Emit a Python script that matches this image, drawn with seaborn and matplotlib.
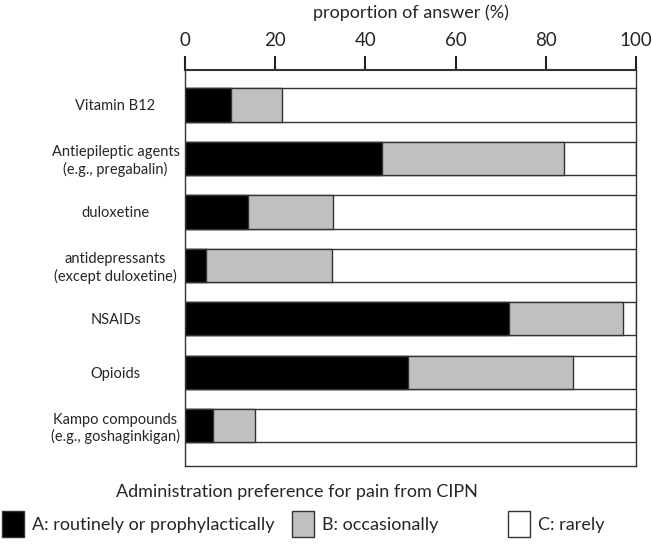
import matplotlib
matplotlib.use('Agg')  # no display
import matplotlib.pyplot as plt
from matplotlib.patches import Patch
import seaborn as sns
import pandas as pd

# values (percent of answers)
categories = [
    "Vitamin B12",
    "Antiepileptic agents\n(e.g., pregabalin)",
    "duloxetine",
    "antidepressants\n(except duloxetine)",
    "NSAIDs",
    "Opioids",
    "Kampo compounds\n(e.g., goshaginkigan)",
]
routinely = [10.3, 43.7, 13.9, 4.6, 71.8, 49.5, 6.2]
occasionally = [11.3, 40.4, 19.0, 28.1, 25.4, 36.6, 9.4]
rarely = [78.4, 15.9, 67.1, 67.3, 2.8, 13.9, 84.4]

legend_labels = ["A: routinely or prophylactically", "B: occasionally", "C: rarely"]
colors = ["black", "#c0c0c0", "white"]

sns.set_style("white")
plt.rcParams['font.family'] = ['Lato', 'DejaVu Sans']

df = pd.DataFrame({"category": categories, "A": routinely, "B": occasionally, "C": rarely})
df["AB"] = df["A"] + df["B"]
df["ABC"] = df["AB"] + df["C"]

fig, ax = plt.subplots(figsize=(6.52, 5.45), dpi=100)
fig.subplots_adjust(left=0.2837, right=0.9755, top=0.8716, bottom=0.145)

# stacked bars: draw the cumulative totals back to front
for col, c in zip(["ABC", "AB", "A"], colors[::-1]):
    sns.barplot(data=df, y="category", x=col, color=c, saturation=1,
                edgecolor="#333333", linewidth=1, width=0.62, ax=ax)

ax.set_xlim(0, 100)
ax.set_ylim(6.75, -0.654)
ax.set_ylabel("")
ax.xaxis.tick_top()
ax.xaxis.set_label_position("top")
ax.set_xticks([0, 20, 40, 60, 80, 100])
ax.set_xlabel("proportion of answer (%)", fontsize=13, labelpad=10)
ax.tick_params(axis="x", direction="out", length=10, width=1.5, color="#222222",
               labelsize=13.5, pad=5, top=True, bottom=False)
ax.set_yticks(range(len(categories)))
ax.set_yticklabels(categories, ha="center", fontsize=10.5)
ax.tick_params(axis="y", length=0, pad=50)
for side in ["left", "right", "bottom", "top"]:
    ax.spines[side].set_visible(True)
    ax.spines[side].set_color("#333333")
    ax.spines[side].set_linewidth(1)
ax.spines["top"].set_linewidth(1.5)

fig.text(0.4555, 0.097, "Administration preference for pain from CIPN",
         ha="center", va="center", fontsize=13)

# three separate legend entries, placed like the reference
legend_x = [0.003, 0.448, 0.779]
for lab, c, x in zip(legend_labels, colors, legend_x):
    h = Patch(facecolor=c, edgecolor="#333333", linewidth=1)
    leg = fig.legend([h], [lab], loc="center left", bbox_to_anchor=(x, 0.0385),
                     frameon=False, fontsize=13, handlelength=1.2, handleheight=1.8,
                     handletextpad=0.45, borderpad=0, borderaxespad=0)

fig.savefig("out.png", dpi=100)
